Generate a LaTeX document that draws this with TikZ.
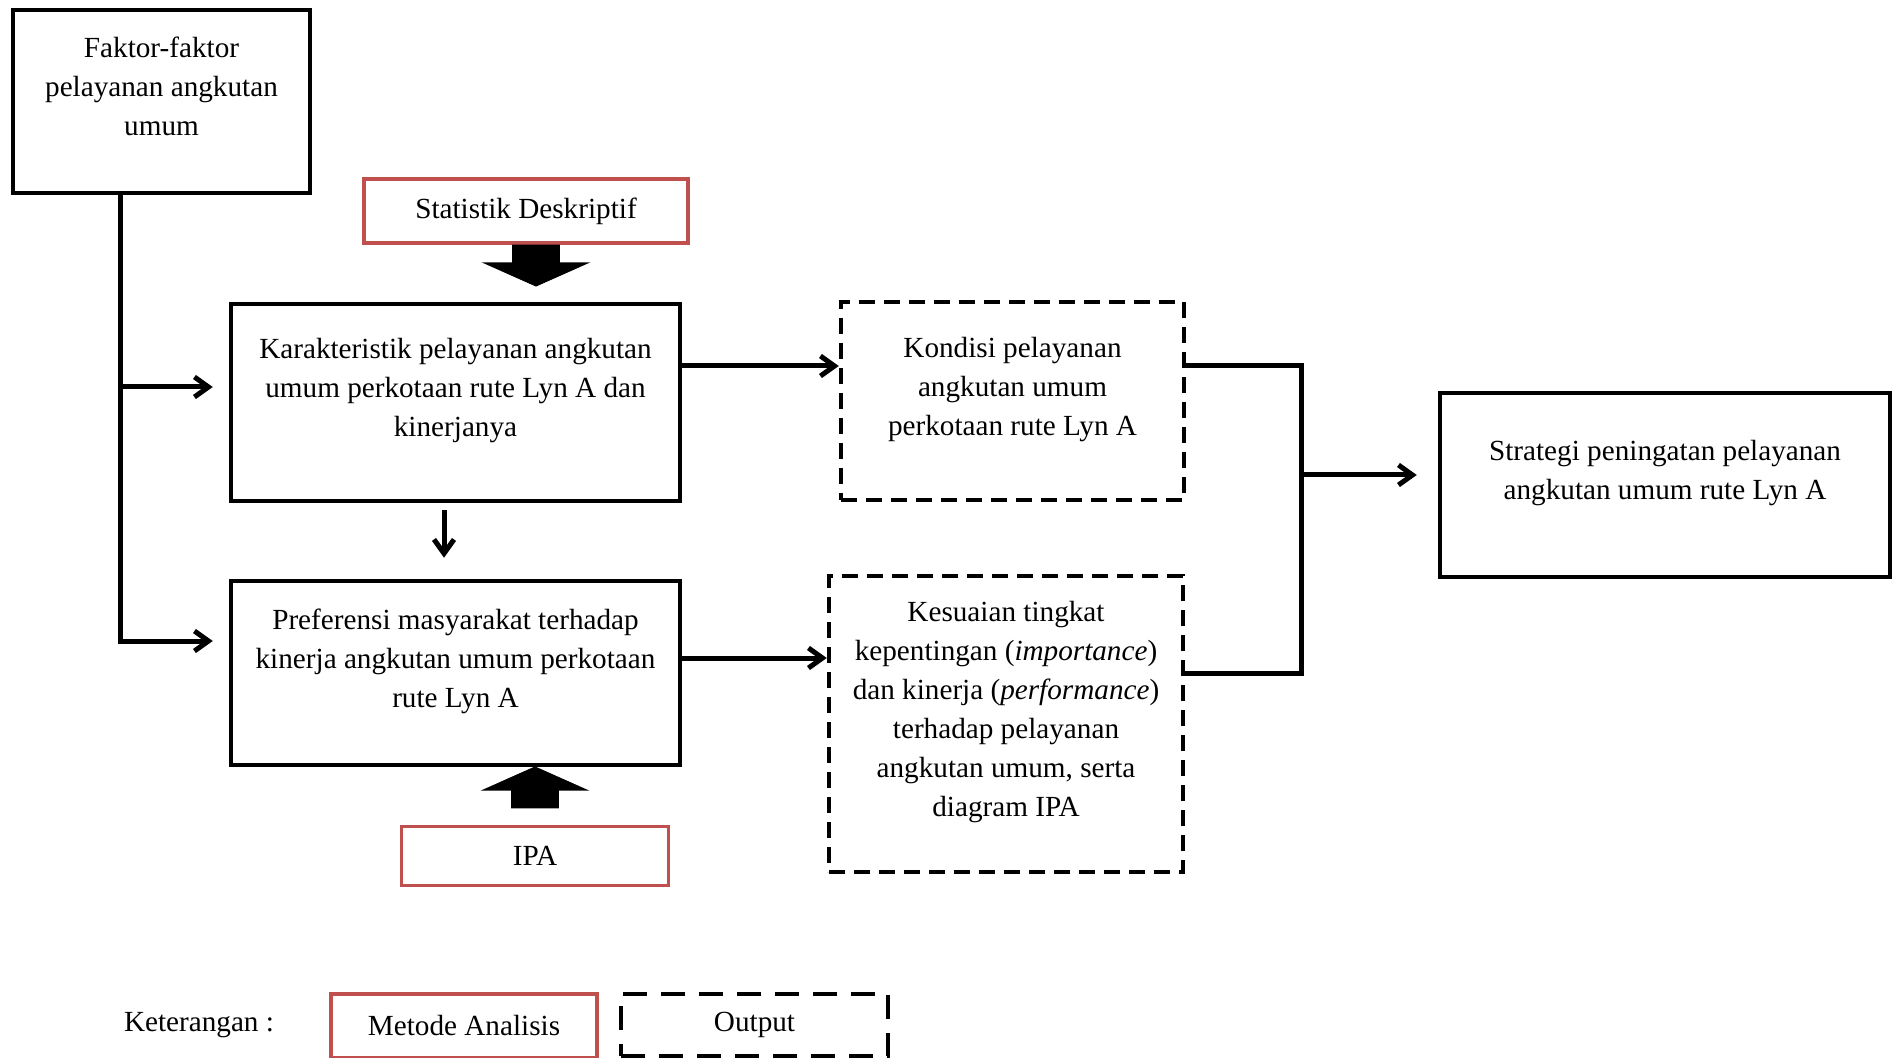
\documentclass[tikz,border=0pt]{standalone}
\usepackage{fontspec}
\setmainfont{Liberation Serif}
\usetikzlibrary{arrows.meta,shapes.arrows}
\definecolor{metode}{HTML}{C0504D}

\begin{document}
\begin{tikzpicture}[
		x=0.5pt, y=-0.5pt,
		font=\fontsize{14.6pt}{19.5pt}\selectfont,
		box/.style={draw, line width=2.25pt, align=center, inner sep=0pt},
		metodebox/.style={draw=metode, line width=1.75pt, align=center, inner sep=0pt},
		outputbox/.style={draw, line width=2.25pt, dash pattern=on 8pt off 4.5pt, align=center, inner sep=0pt},
		line/.style={line width=2.5pt},
		conn/.style={line, -{Straight Barb[length=7pt,width=10pt]}},
		blockarrow/.style={single arrow, fill=black, inner xsep=0pt, inner ysep=11.75pt,
			minimum height=21pt, single arrow head extend=15.25pt, single arrow tip angle=132}
	]
	\useasboundingbox (0,0) rectangle (1894,1058);

	\node[box, minimum width=148.5pt, minimum height=91.5pt] (faktor) at (161.5,101.5)
		{Faktor-faktor\\ pelayanan angkutan\\ umum\\[-10.5pt]\strut};
	\node[metodebox, minimum width=162pt, minimum height=32pt] (stat) at (526,211)
		{Statistik Deskriptif};
	\node[blockarrow, rotate=-90, anchor=tip] (statarrow) at (536,287) {};
	\node[box, minimum width=224.5pt, minimum height=98.5pt] (kar) at (455.5,402.5)
		{Karakteristik pelayanan angkutan\\ umum perkotaan rute Lyn A dan\\ kinerjanya\\[-10.5pt]\strut};
	\node[outputbox, minimum width=171.5pt, minimum height=99pt] (kon) at (1012.5,401)
		{Kondisi pelayanan\\ angkutan umum\\ perkotaan rute Lyn A\\[-10.5pt]\strut};
	\node[box, minimum width=224.5pt, minimum height=92pt] (pref) at (455.5,673)
		{Preferensi masyarakat terhadap\\ kinerja angkutan umum perkotaan\\ rute Lyn A\\[-10.5pt]\strut};
	\node[outputbox, minimum width=177pt, minimum height=148pt] (kes) at (1006,724)
		{Kesuaian tingkat\\ kepentingan (\textit{importance})\\ dan kinerja (\textit{performance})\\
		terhadap pelayanan\\ angkutan umum, serta\\ diagram IPA\\[-10.5pt]\strut};
	\node[metodebox, minimum width=133.5pt, minimum height=29.5pt] (ipa) at (535,856) {IPA};
	\node[blockarrow, rotate=90, anchor=tip] (ipaarrow) at (535,766) {};
	\node[box, minimum width=225pt, minimum height=92pt] (strat) at (1665,485)
		{Strategi peningatan pelayanan\\ angkutan umum rute Lyn A\\[-10.5pt]\strut};

	% keterangan
	\node (ket) at (199,1025) {Keterangan :};
	\node[metodebox, minimum width=133pt, minimum height=32pt] (met) at (464,1026) {Metode Analisis};
	\node[outputbox, dash pattern=on 12pt off 7pt, minimum width=133.5pt, minimum height=31pt] (out) at (754.5,1025) {Output};

	% penghubung
	\coordinate (trunk) at ([xshift=-20.75pt]faktor.south);
	\coordinate (karin) at ([xshift=-8pt,yshift=7.75pt]kar.west);
	\coordinate (prefin) at ([xshift=-8pt,yshift=16pt]pref.west);
	\draw[conn] (trunk) |- (prefin);
	\draw[conn] (trunk |- karin) -- (karin);
	\draw[conn] ([xshift=-5.75pt,yshift=-3.5pt]kar.south) -- ([xshift=-5.75pt,yshift=10.5pt]pref.north);

	\coordinate (karout) at ([yshift=18.25pt]kar.east);
	\coordinate (prefout) at ([yshift=7.5pt]pref.east);
	\draw[conn] (karout) -- (karout -| kon.west);
	\draw[conn] (prefout) -- (prefout -| kes.west);

	\coordinate (merge) at (1301,475);
	\coordinate (stratin) at ([xshift=-10.5pt,yshift=5pt]strat.west);
	\draw[line] (karout -| kon.east) -| (merge) |- (pref.east -| kes.east);
	\draw[conn] (merge) -- (stratin);
\end{tikzpicture}
\end{document}
